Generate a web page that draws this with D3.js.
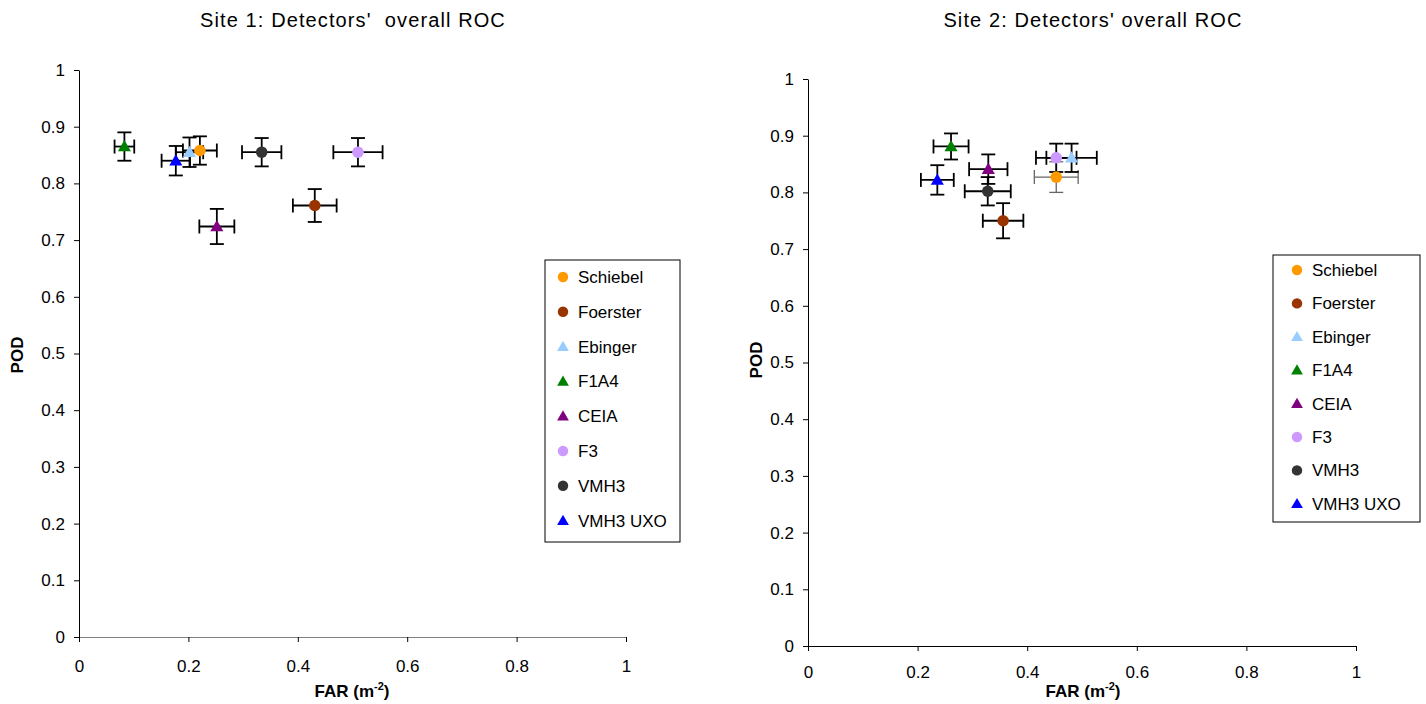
<!DOCTYPE html>
<html><head><meta charset="utf-8">
<script src="https://cdn.jsdelivr.net/npm/d3@7"></script>
<style>body{margin:0;background:#fff;}svg{display:block;font-family:"Liberation Sans",Arial,sans-serif;}</style>
</head><body>
<svg id="c" width="1426" height="704"></svg>
<script>
const detectors = ["Schiebel","Foerster","Ebinger","F1A4","CEIA","F3","VMH3","VMH3 UXO"];
const shapes    = ["circle","circle","triangle","triangle","triangle","circle","circle","triangle"];
const colors    = ["#FF9900","#993300","#99CCFF","#008000","#800080","#CC99FF","#333333","#0000FF"];
const ticks = [0,0.2,0.4,0.6,0.8,1];
const yTicks = [0,0.1,0.2,0.3,0.4,0.5,0.6,0.7,0.8,0.9,1];

const site1FAR  = [0.221,0.431,0.202,0.083,0.252,0.510,0.334,0.177];
const site1POD  = [0.858,0.761,0.855,0.865,0.724,0.855,0.855,0.840];
const site1FARerr = [0.031,0.040,0.025,0.018,0.032,0.045,0.036,0.026];
const site1PODerr = [0.025,0.029,0.026,0.025,0.031,0.025,0.025,0.026];

const site2FAR  = [0.453,0.356,0.481,0.261,0.329,0.453,0.328,0.236];
const site2POD  = [0.827,0.750,0.861,0.881,0.841,0.861,0.802,0.822];
const site2FARerr = [0.040,0.037,0.046,0.032,0.035,0.037,0.042,0.030];
const site2PODerr = [0.027,0.031,0.025,0.023,0.026,0.025,0.025,0.026];

const svg = d3.select("#c");

function panel(cfg){
  const g = svg.append("g");
  const x = d3.scaleLinear().domain([0,1]).range([cfg.x0,cfg.x1]);
  const y = d3.scaleLinear().domain([0,1]).range([cfg.y0,cfg.y1]);
  // title
  g.append("text").attr("x",cfg.tx).attr("y",27).attr("text-anchor","middle")
    .attr("font-size",20).attr("letter-spacing",1.1).style("white-space","pre")
    .attr("fill","#000").text(cfg.title);
  // axes
  const ya = g.append("g").attr("transform",`translate(${cfg.x0},0)`)
    .call(d3.axisLeft(y).tickValues(yTicks).tickFormat(d3.format("~g")).tickSize(5).tickSizeOuter(0).tickPadding(9));
  const xa = g.append("g").attr("transform",`translate(0,${cfg.y0})`)
    .call(d3.axisBottom(x).tickValues(ticks).tickFormat(d3.format("~g")).tickSize(5).tickSizeOuter(0).tickPadding(cfg.xpad));
  [ya,xa].forEach(a=>{
    a.selectAll("path,line").attr("stroke","#000");
    a.selectAll("text").attr("font-size",17).attr("fill","#000").attr("font-family","'Liberation Sans',Arial,sans-serif");
  });
  xa.select("path").attr("stroke",cfg.xAxisColor);
  // axis titles
  const xl = g.append("text").attr("x",cfg.xlx).attr("y",697).attr("text-anchor","middle")
    .attr("font-size",17).attr("font-weight","bold");
  xl.append("tspan").text("FAR (m");
  xl.append("tspan").attr("font-size",11).attr("dy",-7).text("-2");
  xl.append("tspan").attr("dy",7).text(")");
  g.append("text").attr("transform",`translate(${cfg.ylx},${cfg.yly}) rotate(-90)`)
    .attr("text-anchor","middle").attr("font-size",17).attr("font-weight","bold").text("POD");

  const data = detectors.map((d,i)=>({name:d,shape:shapes[i],color:colors[i],
    far:cfg.far[i],pod:cfg.pod[i],fe:cfg.fe[i],pe:cfg.pe[i]}));
  const cap = 7;
  const eb = g.append("g");
  data.forEach(d=>{
    const c = d.name==="Schiebel" && cfg.grayOrange ? "#666" : "#000";
    const w = d.name==="Schiebel" && cfg.grayOrange ? 1.3 : 1.8;
    const cx = x(d.far), cy = y(d.pod);
    const xl0 = x(d.far-d.fe), xl1 = x(d.far+d.fe);
    const yl0 = y(d.pod-d.pe), yl1 = y(d.pod+d.pe);
    const s = eb.append("g").attr("stroke",c).attr("stroke-width",w).attr("fill","none");
    s.append("line").attr("x1",xl0).attr("x2",xl1).attr("y1",cy).attr("y2",cy);
    s.append("line").attr("x1",xl0).attr("x2",xl0).attr("y1",cy-cap).attr("y2",cy+cap);
    s.append("line").attr("x1",xl1).attr("x2",xl1).attr("y1",cy-cap).attr("y2",cy+cap);
    s.append("line").attr("x1",cx).attr("x2",cx).attr("y1",yl0).attr("y2",yl1);
    s.append("line").attr("x1",cx-cap).attr("x2",cx+cap).attr("y1",yl0).attr("y2",yl0);
    s.append("line").attr("x1",cx-cap).attr("x2",cx+cap).attr("y1",yl1).attr("y2",yl1);
  });
  const mk = g.append("g");
  data.forEach(d=>{
    drawMarker(mk, d.shape, d.color, x(d.far), y(d.pod), 1);
  });
  // legend
  const L = cfg.legend;
  g.append("rect").attr("x",L.x).attr("y",L.y).attr("width",L.w).attr("height",L.h)
    .attr("fill","#fff").attr("stroke","#000").attr("stroke-width",1);
  data.forEach((d,i)=>{
    const ly = L.y + L.first + i*L.step;
    drawMarker(g, d.shape, d.color, L.x+L.mdx, ly, 0.9);
    g.append("text").attr("x",L.x+L.tdx).attr("y",ly+6).attr("font-size",17).attr("fill","#000").text(d.name);
  });
}

function drawMarker(g, shape, color, cx, cy, s){
  if(shape==="circle"){
    g.append("circle").attr("cx",cx).attr("cy",cy).attr("r",5.8*s).attr("fill",color);
  } else {
    const sym = d3.symbol().type(d3.symbolTriangle).size(74*s*s);
    g.append("path").attr("d",sym()).attr("transform",`translate(${cx},${cy+1*s})`).attr("fill",color);
  }
}

panel({title:"Site 1: Detectors'  overall ROC", tx:353, x0:79, x1:626, y0:637, y1:70, xpad:18,
  far:site1FAR, pod:site1POD, fe:site1FARerr, pe:site1PODerr, xlx:352, ylx:23, yly:355,
  xAxisColor:"#808080", grayOrange:false,
  legend:{x:545,y:260,w:135,h:282,first:17,step:34.8,mdx:18,tdx:33}});
panel({title:"Site 2: Detectors' overall ROC", tx:1093, x0:808, x1:1356, y0:646, y1:79, xpad:15,
  far:site2FAR, pod:site2POD, fe:site2FARerr, pe:site2PODerr, xlx:1083, ylx:762, yly:360,
  xAxisColor:"#000", grayOrange:true,
  legend:{x:1273,y:255,w:147,h:267,first:15,step:33.4,mdx:24,tdx:39}});
</script>
</body></html>
